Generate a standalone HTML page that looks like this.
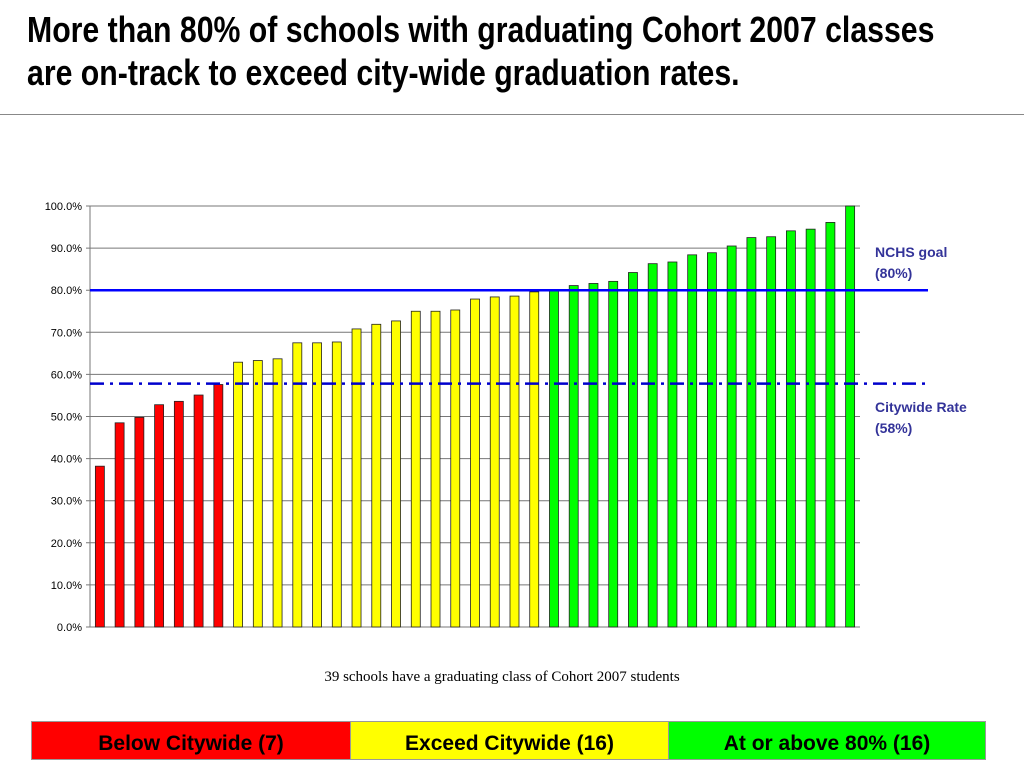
<!DOCTYPE html>
<html><head><meta charset="utf-8"><style>
body{margin:0;width:1024px;height:768px;background:#fff;position:relative;font-family:"Liberation Sans",sans-serif;overflow:hidden}
#title{position:absolute;left:27px;top:8px;font-weight:bold;font-size:36px;line-height:43px;transform:scaleX(0.84);transform-origin:left top;white-space:nowrap;color:#000}
#rule{position:absolute;left:0;top:114px;width:1024px;height:1px;background:#888}
.leg{position:absolute;top:721px;height:39px;line-height:44px;text-align:center;font-weight:bold;font-size:21px;border:1px solid #999;box-sizing:border-box}
</style></head><body>
<div id="title">More than 80% of schools with graduating Cohort 2007 classes<br>are on-track to exceed city-wide graduation rates.</div>
<div id="rule"></div>
<svg id="chart" width="1024" height="768" style="position:absolute;left:0;top:0"></svg>
<div class="leg" style="left:31px;width:320px;background:#f00">Below Citywide (7)</div>
<div class="leg" style="left:350px;width:319px;background:#ff0">Exceed Citywide (16)</div>
<div class="leg" style="left:668px;width:318px;background:#0f0">At or above 80% (16)</div>
<script>
const values=[38.2,48.5,49.8,52.8,53.6,55.1,57.6,62.9,63.3,63.7,67.5,67.5,67.7,70.8,71.9,72.7,75.0,75.0,75.3,77.9,78.4,78.6,79.6,80.1,81.1,81.6,82.1,84.2,86.3,86.7,88.4,88.9,90.5,92.5,92.7,94.1,94.5,96.1,100.0];
const groups=[0,0,0,0,0,0,0,1,1,1,1,1,1,1,1,1,1,1,1,1,1,1,1,2,2,2,2,2,2,2,2,2,2,2,2,2,2,2,2];
const groupColors=["#ff0000","#ffff00","#00ff00"];
const ticks=[0,10,20,30,40,50,60,70,80,90,100];
const goal=80, citywide=57.8;
const NS="http://www.w3.org/2000/svg";
const svg=document.getElementById('chart');
const x0=90,x1=860,yTop=206,yBot=627;
const y=v=>yBot-(yBot-yTop)*v/100;
const slot=(x1-x0)/values.length;
const xc=i=>x0+slot*(i+0.5);
function mk(t,a){const e=document.createElementNS(NS,t);for(const k in a)e.setAttribute(k,a[k]);svg.appendChild(e);return e;}
ticks.forEach(t=>{
 const g=mk('line',{x1:x0-4,x2:x1,y1:y(t),y2:y(t),stroke:'#777','stroke-width':1});
 
 
 const l=mk('text',{x:x0-8,y:y(t)+4,'text-anchor':'end','font-size':11,'font-family':'Liberation Sans, sans-serif'});
 l.textContent=t.toFixed(1)+'%';
 
 
});
const ax=mk('line',{x1:x0,x2:x0,y1:yTop,y2:yBot,stroke:'#777'});


values.forEach((v,i)=>{
 const b=mk('rect',{x:xc(i)-4.5,y:y(v),width:9,height:yBot-y(v),fill:groupColors[groups[i]],stroke:'#222','stroke-width':0.8});
 
 
});
const gl=mk('line',{x1:x0,x2:928,y1:y(goal),y2:y(goal),stroke:'#0000ff','stroke-width':2.5});


const cl=mk('line',{x1:x0,x2:928,y1:y(citywide),y2:y(citywide),stroke:'#0000cc','stroke-width':2.5,'stroke-dasharray':'14,6,3,6'});


function lab(txt,yy,name){const t=mk('text',{x:875,y:yy,'font-size':14,'font-weight':'bold',fill:'#333399','font-family':'Liberation Sans, sans-serif'});t.textContent=txt;}
lab('NCHS goal',257,'nchs-goal-label');lab('(80%)',278,'nchs-goal-value');
lab('Citywide Rate',412,'citywide-rate-label');lab('(58%)',433,'citywide-rate-value');
const cap=mk('text',{x:502,y:681,'text-anchor':'middle','font-size':15,'font-family':'Liberation Serif, serif'});
cap.textContent='39 schools have a graduating class of Cohort 2007 students';


</script>
</body></html>
